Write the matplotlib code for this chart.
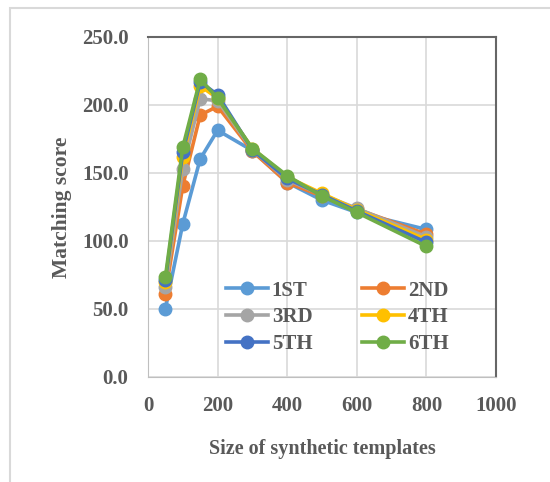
import matplotlib
matplotlib.use('Agg')
import matplotlib.pyplot as plt
from matplotlib.patches import Rectangle

sizes = [50, 100, 150, 200, 300, 400, 500, 600, 800]
labels = ['1ST', '2ND', '3RD', '4TH', '5TH', '6TH']
s1 = [50.2, 112.7, 160.3, 181.4, 166.5, 143.0, 130.0, 121.0, 108.5]
s2 = [61.3, 140.7, 192.6, 199.0, 166.0, 143.0, 133.0, 123.5, 105.0]
s3 = [66.0, 153.0, 204.7, 203.0, 167.0, 145.0, 134.0, 124.0, 103.0]
s4 = [69.5, 162.0, 214.0, 205.0, 168.0, 147.0, 135.0, 123.0, 101.0]
s5 = [71.0, 165.4, 217.0, 207.5, 167.0, 146.0, 134.0, 122.0, 99.0]
s6 = [73.5, 169.0, 219.0, 205.0, 168.0, 148.0, 133.0, 121.0, 96.0]
series = [s1, s2, s3, s4, s5, s6]
colors = ['#5B9BD5', '#ED7D31', '#A5A5A5', '#FFC000', '#4472C4', '#70AD47']

plt.rcParams['font.family'] = ['Liberation Serif', 'DejaVu Serif']
plt.rcParams['font.weight'] = 'bold'

fig = plt.figure(figsize=(5.5, 4.82), dpi=100)
# outer chart border
fig.patches.append(Rectangle((10 / 550, -0.05), 1.2, 1 - 8 / 482 + 0.05,
                             transform=fig.transFigure, fill=False,
                             edgecolor='#d9d9d9', linewidth=1.5))

ax = fig.add_axes([148 / 550, 1 - 377 / 482, 348 / 550, 340 / 482])

lines = []
for vals, lab, c in zip(series, labels, colors):
    ln, = ax.plot(sizes, vals, color=c, linewidth=2.6, marker='o',
                  markersize=9, label=lab)
    lines.append(ln)

ax.set_xlim(0, 1000)
ax.set_ylim(0, 250)
ax.set_xticks([0, 200, 400, 600, 800, 1000])
ax.set_yticks([0, 50, 100, 150, 200, 250])
ax.set_yticklabels(['%.1f' % v for v in [0, 50, 100, 150, 200, 250]])
ax.grid(True, color='#d9d9d9', linewidth=1.2)
ax.set_axisbelow(True)
ax.tick_params(length=0, labelsize=15, labelcolor='#595959')
ax.tick_params(axis='y', pad=14)
ax.tick_params(axis='x', pad=14)
for lab in ax.get_xticklabels() + ax.get_yticklabels():
    lab.set_fontweight('bold')

ax.spines['top'].set_color('#666666')
ax.spines['right'].set_color('#666666')
ax.spines['top'].set_linewidth(1.5)
ax.spines['right'].set_linewidth(1.5)
ax.spines['left'].set_color('#bfbfbf')
ax.spines['bottom'].set_color('#bfbfbf')

ax.set_xlabel('Size of synthetic templates', fontsize=14.5, fontweight='bold',
              color='#595959', labelpad=16)
ax.set_ylabel('Matching score', fontsize=15.5, fontweight='bold',
              color='#595959', labelpad=7)

# row-major order: 1ST 2ND / 3RD 4TH / 5TH 6TH
order = [0, 2, 4, 1, 3, 5]
leg = ax.legend([lines[i] for i in order], [labels[i] for i in order],
                ncol=2, frameon=False, loc='upper left',
                bbox_to_anchor=(0.224, 0.283), fontsize=15,
                handlelength=2.0, handletextpad=0.2, columnspacing=2.4,
                labelspacing=0.32, borderpad=0, borderaxespad=0)
for t in leg.get_texts():
    t.set_color('#595959')
    t.set_fontweight('bold')

fig.savefig('out.png', dpi=100)
